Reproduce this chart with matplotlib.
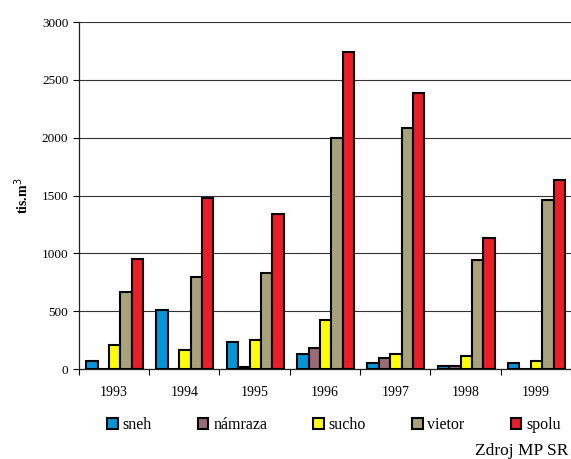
import matplotlib.pyplot as plt
import numpy as np
from matplotlib.patches import Patch

plt.rcParams['font.family'] = ['Liberation Serif', 'DejaVu Serif']

years = ['1993', '1994', '1995', '1996', '1997', '1998', '1999']
sneh = [70, 513, 236, 132, 49, 29, 49]
namraza = [0, 0, 15, 184, 98, 30, 0]
sucho = [204, 167, 254, 424, 132, 112, 67]
vietor = [670, 796, 830, 2000, 2085, 943, 1462]
spolu = [950, 1480, 1341, 2742, 2385, 1133, 1635]

names = ['sneh', 'námraza', 'sucho', 'vietor', 'spolu']
colors = ['#0096DB', '#9A6B74', '#FFFF00', '#A8A27A', '#EE1C25']
series = [sneh, namraza, sucho, vietor, spolu]

fig = plt.figure(figsize=(5.71, 4.59), dpi=100)
ax = fig.add_axes([0.138, 0.196, 0.862, 0.756])

x = np.arange(len(years))
w = 0.162
for i, (vals, c) in enumerate(zip(series, colors)):
    v = np.array(vals, dtype=float)
    ax.bar(x + (i - 2) * w + 0.01, v, w, color=c, edgecolor='black', linewidth=1.5,
           zorder=3)

ax.set_xlim(-0.5, len(years) - 0.5)
ax.set_ylim(0, 3000)
ax.set_yticks(range(0, 3001, 500))
ax.yaxis.grid(True, color='#333333', linewidth=0.8, zorder=0)
ax.set_xticks(x)
ax.set_xticklabels(years, fontsize=10)
ax.set_xticks(np.arange(-0.5, len(years)), minor=True)
ax.tick_params(axis='x', which='major', length=0, pad=12)
ax.tick_params(axis='x', which='minor', length=4, width=0.8, direction='out')
ax.tick_params(axis='y', labelsize=9.5, length=4, width=0.8)
for s in ['top', 'right']:
    ax.spines[s].set_visible(False)
for s in ['left', 'bottom']:
    ax.spines[s].set_linewidth(0.9)
    ax.spines[s].set_color('#222222')

ax.set_ylabel('tis.m$^3$', fontsize=10, fontweight='bold', labelpad=8)

handles = [Patch(facecolor=c, edgecolor='black', linewidth=1.5) for c in colors]
fig.legend(handles, names, loc='center', bbox_to_anchor=(0.585, 0.074), ncol=5,
           frameon=False, fontsize=11.5, handlelength=0.65, handleheight=0.65,
           handletextpad=0.3, columnspacing=2.9)

fig.text(0.995, 1 - 455 / 459, 'Zdroj MP SR', ha='right', va='baseline', fontsize=12.5)

fig.savefig('out.png', dpi=100)
